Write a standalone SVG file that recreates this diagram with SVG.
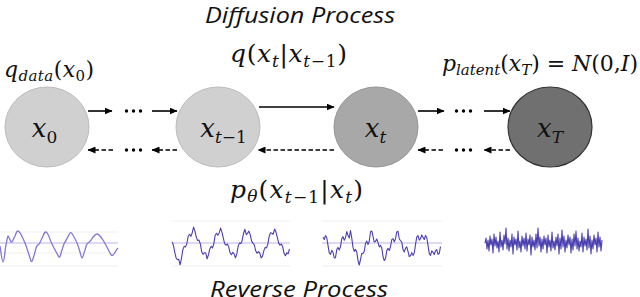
<svg xmlns="http://www.w3.org/2000/svg" width="640" height="297" viewBox="0 0 640 297">
<style>
.title{font-family:"Open Sans","Liberation Sans",sans-serif;font-style:italic;font-size:22px;fill:#111;}
.m{font-family:"DejaVu Serif","Liberation Serif",serif;font-style:italic;fill:#111;}
.up{font-style:normal;}
.node-lbl{font-size:26px;}
.s17{font-size:17px;}
.s15{font-size:15px;}
.s16{font-size:16px;}
.arr{stroke:#000;stroke-width:1.6;fill:none;marker-end:url(#ah);}
.dash{stroke:#000;stroke-width:1.6;fill:none;stroke-dasharray:4.5 2.5;marker-end:url(#ah);}
.dot{fill:#000;}
.grid{stroke:#efefef;stroke-width:1;}
.mid{stroke:#bdb6ea;stroke-width:1.2;}
.wave1{fill:none;stroke:#8378cf;stroke-width:1.3;stroke-linejoin:round;}
.wave{fill:none;stroke:#4a3fae;stroke-width:1.1;stroke-linejoin:round;}
</style>
<defs>
<marker id="ah" viewBox="0 0 8 7" markerWidth="8" markerHeight="7" refX="7.5" refY="3.5" orient="auto" markerUnits="userSpaceOnUse">
<path d="M0,0 L8,3.5 L0,7 z" fill="#000"/>
</marker>
</defs>
<rect width="640" height="297" fill="#fff"/>

<text id="title-diffusion" class="title" x="205" y="23" textLength="190" lengthAdjust="spacingAndGlyphs">Diffusion Process</text>
<text id="title-reverse" class="title" x="210" y="297" textLength="178" lengthAdjust="spacingAndGlyphs">Reverse Process</text>

<g id="label-qdata"><text class="m" x="4" y="77" font-size="22" textLength="90">q<tspan class="s15" dy="4">data</tspan><tspan class="up" dy="-4">(</tspan>x<tspan class="s15 up" dy="4">0</tspan><tspan class="up" dy="-4">)</tspan></text></g>
<g id="label-q"><text class="m" x="230" y="62" font-size="25" textLength="117">q<tspan class="up">(</tspan>x<tspan class="s17" dy="5">t</tspan><tspan class="up" dy="-5">|</tspan>x<tspan class="s17" dy="5">t</tspan><tspan class="s17 up">−1</tspan><tspan class="up" dy="-5">)</tspan></text></g>
<g id="label-platent"><text class="m" x="442" y="71" font-size="22" textLength="196">p<tspan class="s15" dy="4">latent</tspan><tspan class="up" dy="-4">(</tspan>x<tspan class="s15" dy="4">T</tspan><tspan class="up" dy="-4">) = </tspan>N<tspan class="up">(0,</tspan>I<tspan class="up">)</tspan></text></g>
<g id="label-ptheta"><text class="m" x="230" y="198" font-size="25" textLength="133">p<tspan class="s17" dy="4">θ</tspan><tspan class="up" dy="-4">(</tspan>x<tspan class="s17" dy="5">t</tspan><tspan class="s17 up">−1</tspan><tspan class="up" dy="-5">|</tspan>x<tspan class="s17" dy="5">t</tspan><tspan class="up" dy="-5">)</tspan></text></g>

<g id="node-x0">
<ellipse cx="47" cy="127" rx="42" ry="40" fill="#d0d0d0" stroke="#bcbcbc" stroke-width="1"/>
<text class="m node-lbl" x="44.5" y="137" text-anchor="middle">x<tspan class="s17 up" dy="6">0</tspan></text>
</g>
<g id="node-xt-1">
<ellipse cx="218" cy="127" rx="42" ry="40" fill="#d0d0d0" stroke="#bcbcbc" stroke-width="1"/>
<text class="m node-lbl" x="223.5" y="137" text-anchor="middle">x<tspan class="s17" dy="6">t</tspan><tspan class="s17 up">−1</tspan></text>
</g>
<g id="node-xt">
<ellipse cx="376" cy="127" rx="42" ry="40" fill="#a8a8a8" stroke="#959595" stroke-width="1"/>
<text class="m node-lbl" x="375.5" y="137" text-anchor="middle">x<tspan class="s17" dy="6">t</tspan></text>
</g>
<g id="node-xT">
<ellipse cx="550" cy="127" rx="42" ry="40" fill="#707070" stroke="#333" stroke-width="1.2"/>
<text class="m node-lbl" x="550" y="137" text-anchor="middle">x<tspan class="s17" dy="6">T</tspan></text>
</g>

<g id="connectors">
<line class="arr" x1="88" y1="111" x2="112" y2="111"/>
<circle class="dot" cx="126.5" cy="111" r="1.7"/><circle class="dot" cx="133.5" cy="111" r="1.7"/><circle class="dot" cx="140.5" cy="111" r="1.7"/>
<line class="arr" x1="152" y1="111" x2="177" y2="111"/>
<line class="arr" x1="259" y1="107" x2="334" y2="107" stroke-width="2"/>
<line class="arr" x1="418" y1="111" x2="444" y2="111"/>
<circle class="dot" cx="456.5" cy="111" r="1.7"/><circle class="dot" cx="463.5" cy="111" r="1.7"/><circle class="dot" cx="470.5" cy="111" r="1.7"/>
<line class="arr" x1="484" y1="111" x2="510" y2="111"/>

<line class="dash" x1="113" y1="150" x2="88" y2="150"/>
<circle class="dot" cx="126.5" cy="150" r="1.7"/><circle class="dot" cx="133.5" cy="150" r="1.7"/><circle class="dot" cx="140.5" cy="150" r="1.7"/>
<line class="dash" x1="177" y1="150" x2="152" y2="150"/>
<line class="dash" x1="334" y1="150" x2="258" y2="150"/>
<line class="dash" x1="443" y1="150" x2="418" y2="150"/>
<circle class="dot" cx="456.5" cy="150" r="1.7"/><circle class="dot" cx="463.5" cy="150" r="1.7"/><circle class="dot" cx="470.5" cy="150" r="1.7"/>
<line class="dash" x1="510" y1="150" x2="484" y2="150"/>
</g>

<g id="plot1">
<line class="grid" x1="0" y1="232" x2="118" y2="232"/>
<line class="grid" x1="0" y1="253" x2="118" y2="253"/>
<line class="grid" x1="0" y1="266" x2="118" y2="266"/>
<line class="mid" x1="0" y1="243" x2="118" y2="243"/>
<path class="wave1" d="M0,246 C1,252 2,262 3,262 C4.5,262 5,248 6,245 C7,240 7.5,236 8,236 C9,236 10,241 11,242 C12,243 13,240 15,236 C16,233 17,231 18,231 C20,231 22,236 25,243 C27,248 29,255 31,261 C32,263 33,259 35,252 C36,248 36.5,245 38,245 C39.5,245 41,240 43,236 C44,233 45,232 46,232 C48,232 50,240 52,244 C54,248 57,254 59,257 C60,258 61,253 62,250 C63,247 64,243 65,242 C66.5,240 68,236 70,233 C71,232 72,233 74,237 C76,240 78,245 80,252 C81,256 81.5,258 82,258 C83,258 84,252 85,250 C86,247 86,245 87,244 C88.5,243 90,242 91,240 C93,237 95,234 97,234 C99,234 101,237 103,240 C106,245 108,249 110,253 C111,255 112,256 113,255 C114.5,254 116,250 118,248"/>
</g>

<g id="plot2">
<line class="grid" x1="172" y1="221" x2="290" y2="221"/>
<line class="grid" x1="172" y1="266" x2="290" y2="266"/>
<line class="mid" x1="172" y1="243" x2="290" y2="243"/>
<polyline class="wave" points="172,242.1 173.35,245 174.7,251.8 176.05,257.8 177.4,259.7 178.75,259.3 180.1,264.9 181.45,258.4 182.8,249.9 184.15,246.4 185.5,246.9 186.85,243.6 188.2,236.2 189.55,234.3 190.9,236.3 192.25,232.7 193.6,227.1 194.95,231.1 196.3,237.1 197.65,240.6 199,240.1 200.35,244 201.7,251.8 203.05,254.3 204.4,252.7 205.75,252.8 207.1,258.9 208.45,254.9 209.8,248.9 211.15,246.4 212.5,247.9 213.85,243.6 215.2,235.2 216.55,233.3 217.9,235.3 219.25,232.7 220.6,228.1 221.95,232.1 223.3,238.1 224.65,243.6 226,245.1 227.35,244 228.7,246.8 230.05,252.8 231.4,254.7 232.75,252.3 234.1,253.9 235.45,257.9 236.8,253.9 238.15,246.4 239.5,242.9 240.85,243.6 242.2,240.2 243.55,233.3 244.9,229.3 246.25,234.7 247.6,233.1 248.95,231.1 250.3,235.1 251.65,241.1 253,243.1 254.35,245 255.7,250.8 257.05,253.3 258.4,251.7 259.75,252.8 261.1,257.9 262.45,256.4 263.8,250.9 265.15,247.4 266.5,247.9 267.85,244.1 269.2,236.2 270.55,232.8 271.9,233.3 273.25,234.2 274.6,229.1 275.95,232.1 277.3,237.1 278.65,243.1 280,245.1 281.35,244 282.7,246.8 284.05,253.3 285.4,255.7 286.75,252.8 288.1,253.9 289.5,249"/>
</g>

<g id="plot3">
<line class="grid" x1="322" y1="221" x2="442" y2="221"/>
<line class="grid" x1="322" y1="266" x2="442" y2="266"/>
<line class="mid" x1="322" y1="243" x2="442" y2="243"/>
<polyline class="wave" points="323,237.3 324.25,239.5 325.5,235.6 326.75,237.5 328,245.4 329.25,252.9 330.5,254.4 331.75,250.4 333,252.3 334.25,258 335.5,257.7 336.75,249.6 338,247.4 339.25,250 340.5,246.6 341.75,238.6 343,236.6 344.25,240.2 345.5,237.7 346.75,231.5 348,235.3 349.25,238 350.5,230.6 351.75,238 353,247.4 354.25,251.4 355.5,249.4 356.75,251.9 358,260.3 359.25,265 360.5,259.7 361.75,253.6 363,253.4 364.25,251.5 365.5,243.6 366.75,241.1 368,244.6 369.25,241.2 370.5,231.7 371.75,231 373,236.3 374.25,242 375.5,241.6 376.75,239 378,242.4 379.25,246.9 380.5,245.4 381.75,247.9 383,256.3 384.25,260.5 385.5,258.7 386.75,250.6 388,248.4 389.25,250.5 390.5,246.6 391.75,239.6 393,238.6 394.25,241.7 395.5,238.7 396.75,232 398,231.3 399.25,239 400.5,240.6 401.75,242 403,249.4 404.25,251.9 405.5,248.4 406.75,246.9 408,251.3 409.25,256.5 410.5,255.7 411.75,252.6 413,255.4 414.25,253 415.5,244.6 416.75,237.1 418,235.6 419.25,240.2 420.5,238.7 421.75,235 423,237.3 424.25,239.5 425.5,235.6 426.75,237.5 428,245.4 429.25,253.4 430.5,255.4 431.75,250.9 433,252.3 434.25,254.5 435.5,250.7 436.75,249.6 438,254.4 439.25,253.5 440.5,246.6"/>
</g>

<g id="plot4">
<line class="mid" x1="484" y1="243" x2="603" y2="243" stroke-opacity="0.6"/>
<polyline class="wave" stroke-width="1" points="485,243 486,238 487,249 488,240 489,251 490,236 491,245 492,239 493,253 494,234 495,246 496,237 497,248 498,241 499,252 500,232 501,247 502,240 503,250 504,235 505,244 506,228 507,249 508,238 509,251 510,240 511,247 512,234 513,254 514,237 515,245 516,239 517,250 518,231 519,248 520,241 521,252 522,236 523,246 524,238 525,249 526,233 527,251 528,239 529,245 530,235 531,255 532,237 533,247 534,240 535,250 536,234 537,248 538,228 539,246 540,237 541,252 542,239 543,249 544,236 545,245 546,238 547,253 548,235 549,247 550,240 551,251 552,232 553,248 554,241 555,250 556,237 557,246 558,234 559,254 560,238 561,249 562,230 563,247 564,236 565,252 566,240 567,248 568,235 569,245 570,237 571,253 572,239 573,250 574,234 575,246 576,231 577,249 578,238 579,251 580,241 581,247 582,233 583,252 584,237 585,246 586,239 587,250 588,229 589,248 590,236 591,254 592,240 593,249 594,235 595,245 596,238 597,252 598,232 599,247 600,237 601,251 602,240"/>
</g>
</svg>
